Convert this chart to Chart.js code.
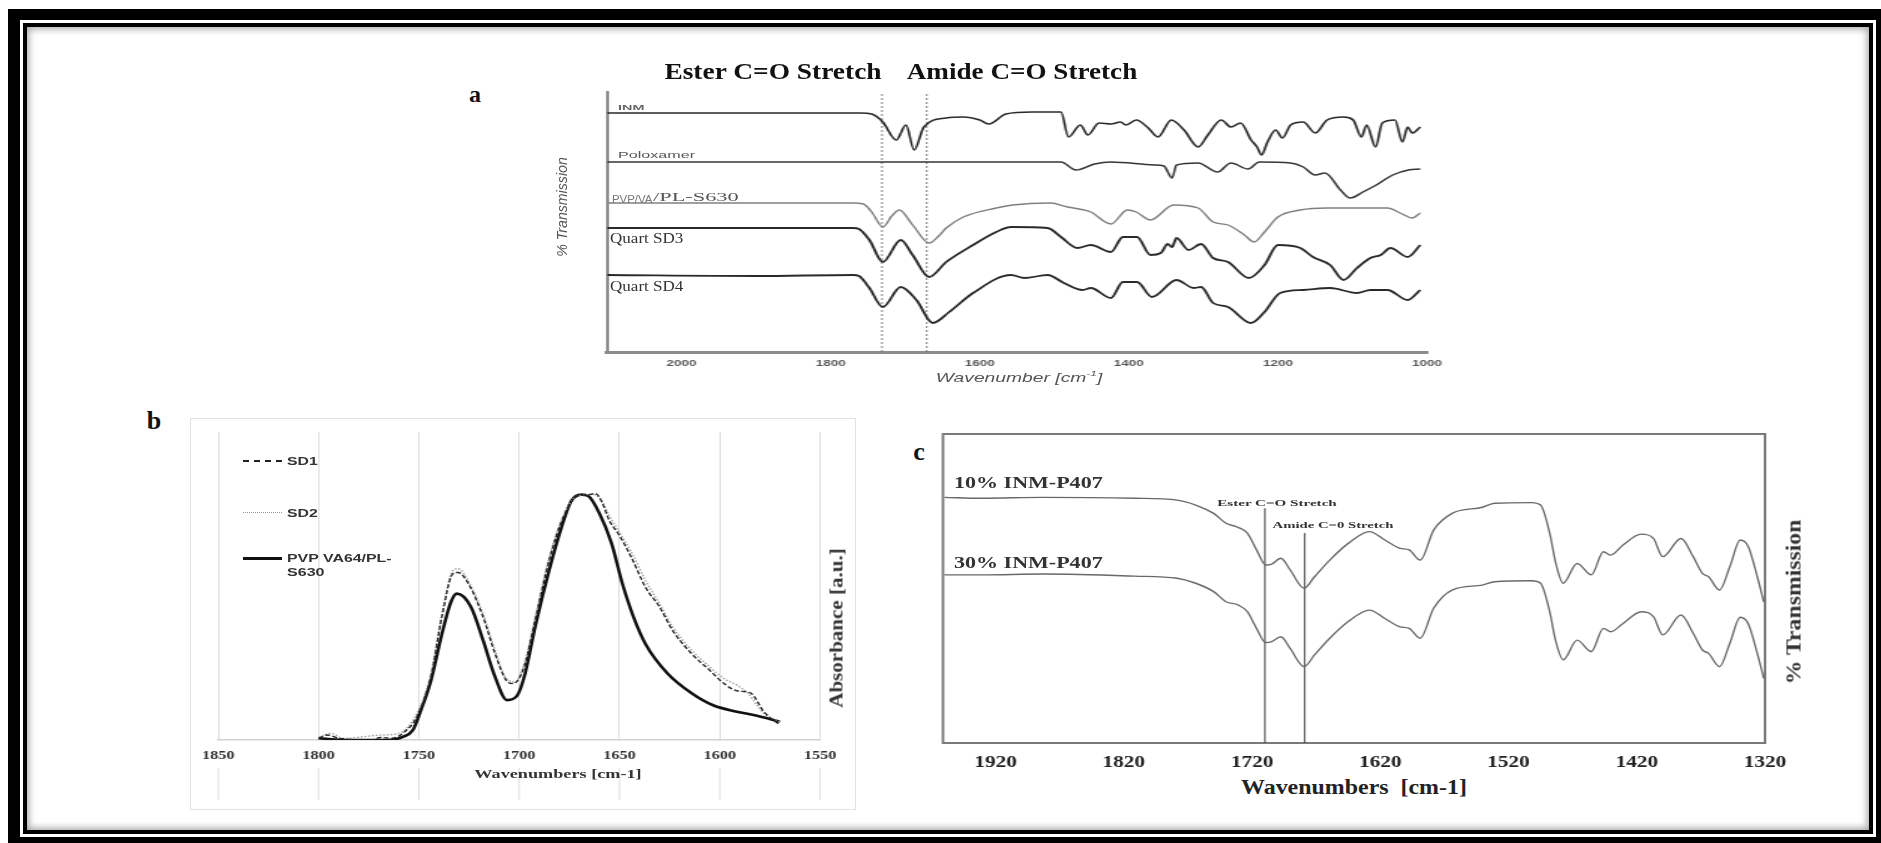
<!DOCTYPE html>
<html><head><meta charset="utf-8">
<script src="https://cdn.jsdelivr.net/npm/chart.js@4.4.0/dist/chart.umd.min.js"></script>
<style>
html,body{margin:0;padding:0;background:#fff;}
#page{position:relative;width:1881px;height:843px;overflow:hidden;background:#fff;}
.txt{position:absolute;white-space:nowrap;line-height:1;}
canvas{position:absolute;}
#outer{position:absolute;left:8px;top:9px;width:1873px;height:834px;box-sizing:border-box;border-style:solid;border-color:#000;border-width:11px 5px 6px 12px;}
#inner{position:absolute;left:23px;top:23px;width:1850px;height:811px;box-sizing:border-box;border:4px solid #000;box-shadow:inset 0 0 7px 2px rgba(0,0,0,0.35);}
#frameB{position:absolute;left:190px;top:418px;width:666px;height:392px;box-sizing:border-box;border:1.5px solid #e2e2e2;}
.leg{position:absolute;height:0;}
</style></head>
<body><div id="page">
<div id="outer"></div><div id="inner"></div><div id="frameB"></div>
</div>
<script>
// ================= DATA =================
// Panel a: wavenumber (cm-1) vs offset % transmission (a.u.)
const aTicks = [2000, 1800, 1600, 1400, 1200, 1000];
const aEster = 1731, aAmide = 1671;
const aINM = [[2100,119.5],[1900,119.5],[1760,119.5],[1745,119],[1730,115],[1712,106],[1699,113.5],[1688,101],[1675,112.5],[1645,117],[1622,117.5],[1600,116],[1588,114],[1565,119],[1530,120],[1491,120],[1481,107.5],[1465,113.5],[1455,108.5],[1440,114.5],[1424,114],[1411,115],[1404,113.5],[1390,116],[1374,112],[1361,107.5],[1343,116],[1326,111],[1307,102.5],[1294,108.5],[1276,116],[1263,112.5],[1250,114.5],[1236,106],[1228,102.5],[1222,98.5],[1214,105],[1203,111],[1194,107],[1183,113.5],[1166,115],[1150,109.5],[1134,116],[1112,117.5],[1099,116],[1088,107.5],[1081,113.5],[1069,102.5],[1060,114.5],[1043,116],[1033,105],[1026,112.5],[1020,109.5],[1009,112.5]];
const aPoloxamer = [[2100,95],[1800,95],[1500,95],[1491,95],[1471,91],[1446,94],[1424,95],[1366,93.5],[1353,93],[1342,87],[1336,93.5],[1307,94.5],[1281,90],[1263,94.5],[1240,91.5],[1225,95],[1183,94.5],[1166,92.5],[1150,88.5],[1137,89.5],[1116,81],[1103,77],[1086,80],[1068,83.5],[1046,88.5],[1025,91],[1009,91.5]];
const aPVPVA = [[2100,74.5],[1770,74.5],[1756,74],[1745,70],[1730,62.5],[1718,68],[1708,71],[1690,63.5],[1668,54.5],[1655,58],[1645,62],[1622,67.5],[1578,72],[1556,73.5],[1505,74.5],[1482,72.5],[1460,71],[1451,70],[1424,64],[1402,71],[1390,70],[1371,66],[1340,73.5],[1307,72],[1287,65],[1267,63.5],[1245,58.5],[1232,55],[1218,60],[1200,67.5],[1170,71],[1134,72],[1053,72],[1036,69.5],[1020,67],[1009,69.5]];
const aSD3 = [[2100,62],[1770,62],[1762,61.5],[1748,56],[1730,45],[1706,56],[1690,48.5],[1668,37.5],[1645,45],[1609,53.5],[1578,60],[1558,62.5],[1509,62],[1491,57.5],[1469,52],[1451,53.5],[1424,50],[1408,57.5],[1389,57.5],[1371,48.5],[1357,49.5],[1348,54],[1342,52.5],[1336,57],[1320,51],[1303,54],[1287,47],[1267,45],[1239,37],[1218,43.5],[1200,53.5],[1170,52],[1153,47.5],[1130,43.5],[1112,36],[1094,42],[1076,47],[1062,48.5],[1049,52],[1026,47.5],[1009,53.5]];
const aSD4 = [[2100,38.5],[1900,38],[1770,38.5],[1762,38],[1748,32],[1730,22.5],[1706,32.5],[1685,26],[1663,14.5],[1641,20],[1609,29.5],[1558,38.5],[1540,37],[1509,38.5],[1487,34.5],[1462,31],[1451,32],[1424,27],[1408,35],[1389,35],[1369,27.5],[1336,36],[1313,32],[1303,32.5],[1287,24.5],[1267,22.5],[1236,14.5],[1218,20],[1197,29.5],[1166,31],[1130,32],[1094,29.5],[1076,31],[1053,31],[1026,26],[1009,31]];

// Panel b: wavenumber (cm-1) vs absorbance (a.u.)
const bTicks = [1850, 1800, 1750, 1700, 1650, 1600, 1550];
const bSD1 = [[1800,0.007],[1795.5,0.02],[1790,0.007],[1774,0],[1769,0.01],[1763.5,0.007],[1757,0.034],[1751,0.094],[1744,0.256],[1738.5,0.5],[1733,0.675],[1730.5,0.68],[1725,0.63],[1718,0.5],[1712,0.35],[1706.5,0.243],[1703,0.229],[1697.5,0.297],[1692,0.486],[1685,0.73],[1678,0.904],[1671,0.99],[1665.5,0.996],[1662,1.0],[1659,0.97],[1655,0.89],[1650,0.83],[1644,0.74],[1637,0.62],[1630,0.54],[1623.5,0.445],[1614,0.35],[1605,0.283],[1598,0.23],[1591.5,0.2],[1584.5,0.19],[1578,0.115],[1570,0.06]];
const bSD2 = [[1800,0.01],[1794,0.027],[1787.5,0.007],[1769,0.02],[1760,0.027],[1751,0.108],[1744,0.27],[1738.5,0.513],[1733,0.688],[1730.5,0.695],[1725,0.64],[1718,0.513],[1712,0.364],[1706.5,0.25],[1702,0.236],[1697.5,0.31],[1692,0.5],[1685,0.742],[1678,0.91],[1671,0.99],[1664,0.996],[1660,0.985],[1655,0.91],[1650,0.843],[1644,0.762],[1637,0.648],[1630,0.553],[1623.5,0.46],[1614,0.364],[1605,0.297],[1598,0.25],[1591.5,0.223],[1586,0.19],[1578,0.108],[1570,0.074]];
const bPVP = [[1800,0.007],[1785,0],[1765,0],[1758,0.013],[1753,0.04],[1749,0.12],[1744,0.24],[1738.5,0.43],[1734,0.56],[1731,0.594],[1724,0.54],[1718,0.405],[1712,0.256],[1706,0.162],[1701,0.18],[1697,0.27],[1692,0.46],[1685,0.69],[1679,0.86],[1674,0.97],[1669,0.996],[1665.5,0.99],[1660,0.92],[1654,0.8],[1648.5,0.634],[1643,0.5],[1637,0.39],[1626,0.27],[1614,0.19],[1603,0.14],[1591.5,0.115],[1582.5,0.1],[1570,0.074]];

// Panel c: wavenumber (cm-1) vs offset % transmission
const cTicks = [1920, 1820, 1720, 1620, 1520, 1420, 1320];
const cEster = 1710, cAmide = 1679;
const cEsterTop = 76, cAmideTop = 68;
const c10 = [[1960,79.5],[1931,79.2],[1883,79.5],[1812,79.2],[1778.5,78.6],[1764,77],[1750,74.3],[1740.3,71.1],[1731,69.8],[1723.7,67.9],[1716.5,62.5],[1709.4,57.6],[1704.6,57.9],[1697.5,59.8],[1690.3,56],[1679.4,50.1],[1671.3,53.8],[1659.4,59.2],[1645,64.6],[1628.4,68.4],[1616.5,65.7],[1604.6,63],[1597.5,62.5],[1588.9,59.2],[1578.4,68.9],[1564,74.3],[1540.3,76.3],[1530.8,77.6],[1502,77.8],[1495,77],[1487.9,67.9],[1483.1,58.1],[1477.4,51.7],[1466.5,58.1],[1455.5,54.4],[1446,61.9],[1440.3,60.8],[1430.7,64.1],[1416.5,67.6],[1407,66.2],[1399.8,60.3],[1385.5,66.2],[1376,60.3],[1368.8,54.9],[1364,53.8],[1355.5,49.5],[1347.4,57.1],[1339.3,65.7],[1333,63.5],[1326,53.8],[1321,45.7]];
const c30 = [[1960,54.4],[1931,54.4],[1883,54.7],[1812,54],[1778.5,53.3],[1764,51.7],[1750,49],[1740.3,45.7],[1731,44.7],[1723.7,42.5],[1716.5,37.1],[1709.4,32.5],[1704.6,32.8],[1697.5,34.4],[1690.3,30.6],[1679.4,24.7],[1671.3,28.5],[1659.4,33.9],[1645,39.3],[1628.4,43],[1616.5,40.3],[1604.6,37.6],[1597.5,37.1],[1588.9,33.9],[1578.4,43.6],[1564,49.5],[1540.3,51.1],[1530.8,52.2],[1502,52.5],[1495,51.7],[1487.9,42.5],[1483.1,32.8],[1477.4,26.9],[1466.5,33.3],[1455.5,29.6],[1446,37.1],[1440.3,36],[1430.7,38.7],[1416.5,42.5],[1407,40.9],[1399.8,35],[1385.5,41.4],[1376,35.5],[1368.8,30.1],[1364,29],[1355.5,24.7],[1347.4,32.3],[1339.3,40.7],[1333,38.5],[1326,29],[1321,20.9]];

// ================= HELPERS =================
const page = document.getElementById('page');
const xy = arr => arr.map(([x, y]) => ({x, y}));
const plain = v => String(v);

function addText(html, o) {
  const d = document.createElement('div');
  d.className = 'txt';
  d.innerHTML = html;
  d.style.font = `${o.style || 'normal'} ${o.weight || 'normal'} ${o.size}px ${o.family}`;
  d.style.color = o.color || '#222';
  page.appendChild(d);
  const nat = d.offsetWidth;
  const s = o.len ? o.len / nat : 1;
  d.style.left = o.x + 'px';
  d.style.top = o.y + 'px';
  if (o.anchor === 'left') {
    d.style.transformOrigin = '0 50%';
    d.style.transform = `translateY(-50%) scaleX(${s})`;
  } else if (o.rot) {
    d.style.transform = `translate(-50%,-50%) rotate(${o.rot}deg) scaleX(${s})`;
  } else {
    d.style.transform = `translate(-50%,-50%) scaleX(${s})`;
  }
  return d;
}

function addLegLine(x1, x2, y, css) {
  const d = document.createElement('div');
  d.className = 'leg';
  d.style.left = x1 + 'px';
  d.style.top = y + 'px';
  d.style.width = (x2 - x1) + 'px';
  d.style.borderTop = css;
  page.appendChild(d);
}

function makeCanvas(box, sx) {
  const c = document.createElement('canvas');
  const iw = Math.round(box.w / sx);
  c.width = iw; c.height = box.h;
  c.style.left = box.x + 'px'; c.style.top = box.y + 'px';
  c.style.width = box.w + 'px'; c.style.height = box.h + 'px';
  page.appendChild(c);
  return {c, k: box.w / iw};
}

const SERIF = '"Liberation Serif","Times New Roman",serif';
const SANS = '"Liberation Sans",Arial,sans-serif';
const curve = {pointRadius: 0, fill: false, cubicInterpolationMode: 'monotone'};

// ================= PANEL A =================
(function () {
  const box = {x: 570, y: 80, w: 890, h: 310};
  const area = {l: 607, r: 1427, t: 92, b: 352};
  const {c, k} = makeCanvas(box, 1.5);
  const padL = (area.l - box.x) / k, padR = (box.x + box.w - area.r) / k;
  new Chart(c, {
    type: 'line',
    data: {datasets: [
      {label: 'INM', data: xy(aINM), borderColor: '#2a2a2a', borderWidth: 1.6, ...curve},
      {label: 'Poloxamer', data: xy(aPoloxamer), borderColor: '#363636', borderWidth: 1.5, ...curve},
      {label: 'PVP/VA /PL-S630', data: xy(aPVPVA), borderColor: '#808080', borderWidth: 1.4, ...curve},
      {label: 'Quart SD3', data: xy(aSD3), borderColor: '#2a2a2a', borderWidth: 1.8, ...curve},
      {label: 'Quart SD4', data: xy(aSD4), borderColor: '#2a2a2a', borderWidth: 1.8, ...curve},
      {label: 'Ester', data: [{x: aEster, y: 0}, {x: aEster, y: 130}], borderColor: '#777', borderWidth: 0.9, borderDash: [2, 2], pointRadius: 0},
      {label: 'Amide', data: [{x: aAmide, y: 0}, {x: aAmide, y: 130}], borderColor: '#777', borderWidth: 0.9, borderDash: [2, 2], pointRadius: 0}
    ]},
    options: {
      responsive: false, animation: false, events: [],
      layout: {padding: {left: 0, right: padR, top: area.t - box.y, bottom: 0}},
      plugins: {legend: {display: false}, tooltip: {enabled: false}},
      scales: {
        x: {type: 'linear', reverse: true, min: 1000, max: 2100,
          afterBuildTicks: s => { s.ticks = aTicks.map(v => ({value: v})); },
          afterFit: s => { s.height = box.y + box.h - area.b; },
          grid: {display: false, drawTicks: false},
          border: {display: true, color: '#8c8c8c', width: 3},
          ticks: {autoSkip: false, maxRotation: 0, padding: 6, color: '#5a5a5a', callback: plain,
            font: {family: SANS, size: 9, weight: 'bold'}}},
        y: {type: 'linear', min: 0, max: 130,
          afterFit: s => { s.width = padL; },
          grid: {display: false, drawTicks: false},
          border: {display: true, color: '#8c8c8c', width: 2},
          ticks: {display: false}}
      }
    }
  });
  addText('Ester C=O Stretch', {x: 773, y: 72, size: 23, weight: 'bold', family: SERIF, len: 217, color: '#111'});
  addText('Amide C=O Stretch', {x: 1022, y: 72, size: 23, weight: 'bold', family: SERIF, len: 230, color: '#111'});
  addText('a', {x: 475, y: 94, size: 24, weight: 'bold', family: SERIF, color: '#111'});
  addText('INM', {x: 618, y: 107, size: 8, weight: 'bold', family: SANS, len: 27, color: '#666', anchor: 'left'});
  addText('Poloxamer', {x: 618, y: 155, size: 9, family: SANS, len: 77, color: '#555', anchor: 'left'});
  addText('PVP/VA', {x: 612, y: 199, size: 10, family: SANS, len: 40, color: '#777', anchor: 'left'});
  addText('/PL-S630', {x: 653, y: 197, size: 13, family: SERIF, len: 86, color: '#555', anchor: 'left'});
  addText('Quart SD3', {x: 610, y: 239, size: 14, family: SERIF, len: 73, color: '#333', anchor: 'left'});
  addText('Quart SD4', {x: 610, y: 287, size: 14, family: SERIF, len: 73, color: '#333', anchor: 'left'});
  addText('% Transmission', {x: 562, y: 207, size: 14, style: 'italic', family: SANS, len: 100, color: '#555', rot: -90});
  addText('Wavenumber [cm<sup style="font-size:8px">-1</sup>]', {x: 1019, y: 377, size: 13, style: 'italic', family: SANS, len: 166, color: '#555'});
})();

// ================= PANEL B =================
(function () {
  const box = {x: 192, y: 422, w: 665, h: 388};
  const area = {l: 216, r: 820, t: 432, b: 740};
  const {c, k} = makeCanvas(box, 1.25);
  const padL = (area.l - box.x) / k, padR = (box.x + box.w - area.r) / k;
  const gridExt = {
    id: 'gridExt',
    afterDraw(chart) {
      const ctx = chart.ctx, xs = chart.scales.x, ca = chart.chartArea;
      ctx.save();
      ctx.strokeStyle = '#dcdcdc'; ctx.lineWidth = 1;
      bTicks.forEach(v => {
        const px = xs.getPixelForValue(v);
        ctx.beginPath(); ctx.moveTo(px, ca.bottom + 28); ctx.lineTo(px, ca.bottom + 60); ctx.stroke();
      });
      ctx.restore();
    }
  };
  new Chart(c, {
    type: 'line',
    data: {datasets: [
      {label: 'SD1', data: xy(bSD1), borderColor: '#222', borderWidth: 1.4, borderDash: [4, 2], ...curve},
      {label: 'SD2', data: xy(bSD2), borderColor: '#a0a0a0', borderWidth: 1.4, borderDash: [1.5, 1.5], ...curve},
      {label: 'PVP VA64/PL-S630', data: xy(bPVP), borderColor: '#111', borderWidth: 2.6, ...curve}
    ]},
    plugins: [gridExt],
    options: {
      responsive: false, animation: false, events: [],
      layout: {padding: {left: padL, right: padR, top: area.t - box.y, bottom: 0}},
      plugins: {legend: {display: false}, tooltip: {enabled: false}},
      scales: {
        x: {type: 'linear', reverse: true, min: 1550, max: 1850,
          afterBuildTicks: s => { s.ticks = bTicks.map(v => ({value: v})); },
          afterFit: s => { s.height = box.y + box.h - area.b; },
          grid: {display: true, color: '#dcdcdc', lineWidth: 1, drawTicks: false},
          border: {display: true, color: '#d2d2d2', width: 1.5},
          ticks: {autoSkip: false, maxRotation: 0, padding: 8, color: '#333', callback: plain,
            font: {family: SERIF, size: 13, weight: 'bold'}}},
        y: {type: 'linear', display: false, min: 0, max: 1.25}
      }
    }
  });
  addText('b', {x: 154, y: 421, size: 26, weight: 'bold', family: SERIF, color: '#111'});
  addLegLine(243, 282, 460, '2px dashed #222');
  addLegLine(243, 282, 512, '1.5px dotted #999');
  addLegLine(243, 282, 557, '3px solid #111');
  addText('SD1', {x: 287, y: 461, size: 10, weight: 'bold', family: SANS, len: 30, color: '#333', anchor: 'left'});
  addText('SD2', {x: 287, y: 513, size: 10, weight: 'bold', family: SANS, len: 30, color: '#333', anchor: 'left'});
  addText('PVP VA64/PL-', {x: 287, y: 558, size: 10, weight: 'bold', family: SANS, len: 105, color: '#333', anchor: 'left'});
  addText('S630', {x: 287, y: 572, size: 10, weight: 'bold', family: SANS, len: 37, color: '#333', anchor: 'left'});
  addText('Wavenumbers [cm-1]', {x: 558, y: 774, size: 13, weight: 'bold', family: SERIF, len: 168, color: '#333'});
  addText('Absorbance [a.u.]', {x: 837, y: 628, size: 18, weight: 'bold', family: SERIF, len: 160, color: '#333', rot: -90});
})();

// ================= PANEL C =================
(function () {
  const box = {x: 930, y: 424, w: 870, h: 350};
  const area = {l: 943, r: 1765, t: 434, b: 743};
  const {c, k} = makeCanvas(box, 1.25);
  const padL = (area.l - box.x) / k, padR = (box.x + box.w - area.r) / k;
  const frame = {
    id: 'frame',
    beforeDatasetsDraw(chart) {
      const ctx = chart.ctx, ca = chart.chartArea;
      ctx.save();
      ctx.strokeStyle = '#7a7a7a'; ctx.lineWidth = 2;
      ctx.strokeRect(ca.left, ca.top, ca.right - ca.left, ca.bottom - ca.top);
      ctx.restore();
    }
  };
  new Chart(c, {
    type: 'line',
    data: {datasets: [
      {label: '10% INM-P407', data: xy(c10), borderColor: '#686868', borderWidth: 1.4, ...curve},
      {label: '30% INM-P407', data: xy(c30), borderColor: '#686868', borderWidth: 1.4, ...curve},
      {label: 'Ester C=O Stretch', data: [{x: cEster, y: 0}, {x: cEster, y: cEsterTop}], borderColor: '#555', borderWidth: 1.2, pointRadius: 0},
      {label: 'Amide C=0 Stretch', data: [{x: cAmide, y: 0}, {x: cAmide, y: cAmideTop}], borderColor: '#555', borderWidth: 1.2, pointRadius: 0}
    ]},
    plugins: [frame],
    options: {
      responsive: false, animation: false, events: [],
      layout: {padding: {left: padL, right: padR, top: area.t - box.y, bottom: 0}},
      plugins: {legend: {display: false}, tooltip: {enabled: false}},
      scales: {
        x: {type: 'linear', reverse: true, min: 1320, max: 1961,
          afterBuildTicks: s => { s.ticks = cTicks.map(v => ({value: v})); },
          afterFit: s => { s.height = box.y + box.h - area.b; },
          grid: {display: false, drawTicks: false},
          border: {display: false},
          ticks: {autoSkip: false, maxRotation: 0, padding: 9, color: '#222', callback: plain,
            font: {family: SERIF, size: 17, weight: 'bold'}}},
        y: {type: 'linear', display: false, min: 0, max: 100}
      }
    }
  });
  addText('c', {x: 919, y: 452, size: 26, weight: 'bold', family: SERIF, color: '#111'});
  addText('10% INM-P407', {x: 954, y: 483, size: 17, weight: 'bold', family: SERIF, len: 149, color: '#333', anchor: 'left'});
  addText('30% INM-P407', {x: 954, y: 563, size: 17, weight: 'bold', family: SERIF, len: 149, color: '#333', anchor: 'left'});
  addText('Ester C=O Stretch', {x: 1277, y: 503, size: 9, weight: 'bold', family: SERIF, len: 119, color: '#333'});
  addText('Amide C=0 Stretch', {x: 1333, y: 525, size: 9, weight: 'bold', family: SERIF, len: 121, color: '#333'});
  addText('% Transmission', {x: 1794, y: 602, size: 21, weight: 'bold', family: SERIF, len: 165, color: '#333', rot: -90});
  addText('Wavenumbers&nbsp; [cm-1]', {x: 1354, y: 787, size: 20, weight: 'bold', family: SERIF, len: 226, color: '#222'});
})();
</script>
</body></html>
